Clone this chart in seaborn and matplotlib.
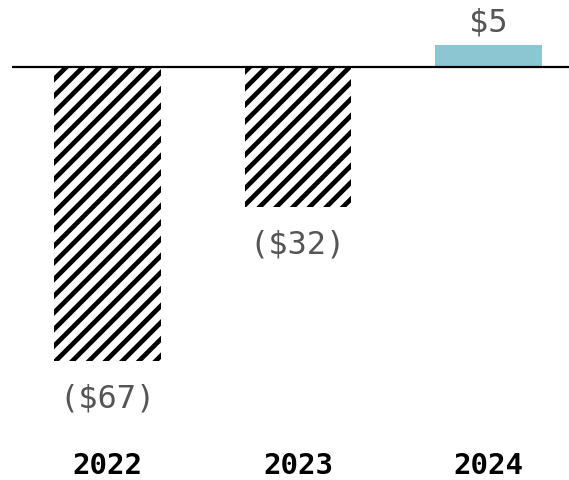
import matplotlib
matplotlib.use("Agg")
import matplotlib.pyplot as plt
import seaborn as sns
import pandas as pd

years = ["2022", "2023", "2024"]
values = [-67, -32, 5]
labels = ["($67)", "($32)", "$5"]

sns.set_style("white")
plt.rcParams['font.family'] = ['DejaVu Sans Mono', 'DejaVu Sans']
plt.rcParams['hatch.linewidth'] = 3.4

W, H = 569, 480
fig = plt.figure(figsize=(W / 100, H / 100), dpi=100)
ax = fig.add_axes([0, 40 / H, 1, 440 / H])

df = pd.DataFrame({"year": years, "value": values})
sns.barplot(data=df, x="year", y="value", ax=ax, color="#8BC6D2",
            width=0.56, saturation=1, errorbar=None)

for p, v in zip(ax.patches, values):
    p.set_linewidth(0)
    if v < 0:
        p.set_facecolor("white")
        p.set_edgecolor("black")
        p.set_hatch("//")

scale = 4.39
ax.set_ylim(-(440 - 67) / scale, 67 / scale)
ax.set_xlim(-0.564, 2.423)
ax.plot([-0.5 + 12 / 190.5 - 0.064 + 0.0, 2.423], [0, 0], color="black", lw=1.6, zorder=5,
        solid_capstyle="butt")

for i, (v, lab) in enumerate(zip(values, labels)):
    off = 16 if v > 0 else -27
    ax.annotate(lab, (i, v), xytext=(0, off), textcoords="offset points",
                ha="center", va="center", fontsize=23, color="#555555")

for s in ax.spines.values():
    s.set_visible(False)
ax.set_yticks([])
ax.set_xlabel("")
ax.set_ylabel("")
ax.tick_params(axis="x", length=0, pad=9)
for t in ax.get_xticklabels():
    t.set_fontsize(21)
    t.set_fontweight("bold")
    t.set_color("black")

fig.savefig("out.png", dpi=100)
